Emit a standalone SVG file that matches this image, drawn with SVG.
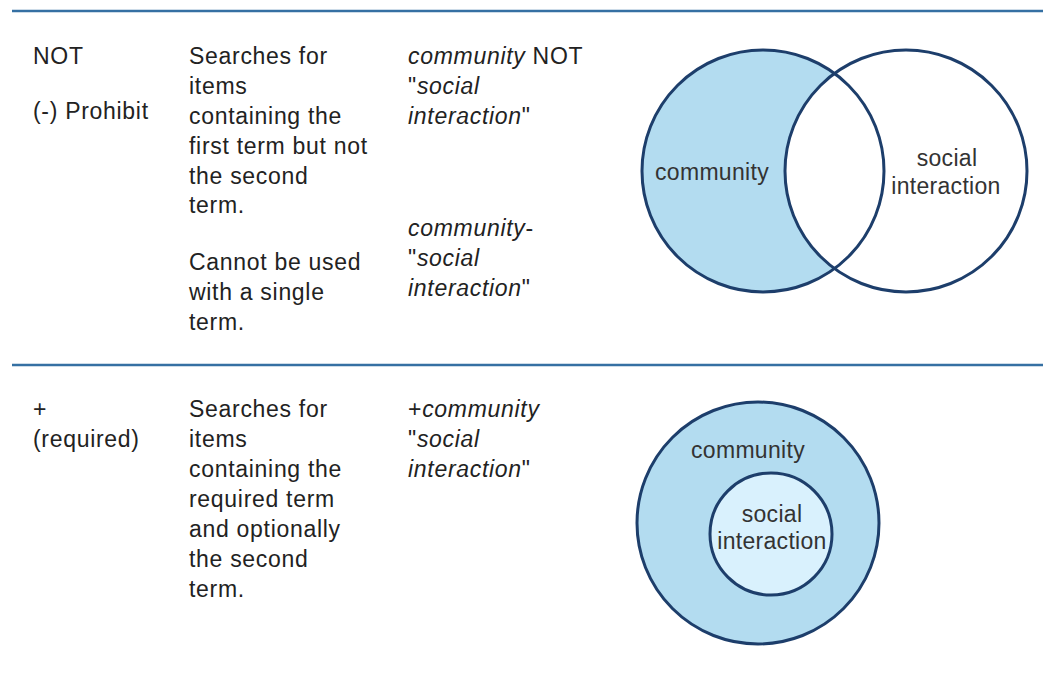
<svg xmlns="http://www.w3.org/2000/svg" width="1043" height="675" viewBox="0 0 1043 675">
  <style>
    .t { font-family: "Liberation Sans", Arial, sans-serif; font-size: 23px; fill: #222; letter-spacing: 0.7px; }
    .i { font-style: italic; }
    .c { font-family: "Liberation Sans", Arial, sans-serif; font-size: 23px; fill: #333; text-anchor: middle; letter-spacing: 0.3px; }
    .rule { stroke: #3570a3; stroke-width: 2.5; }
    .ring { stroke: #1d3e6b; stroke-width: 3; }
  </style>
  <rect width="1043" height="675" fill="#ffffff"/>

  <g id="rules">
    <line class="rule" x1="12" y1="11" x2="1043" y2="11"/>
    <line class="rule" x1="12" y1="365" x2="1043" y2="365"/>
  </g>

  <g id="row-not">
    <text class="t" x="33" y="64">NOT</text>
    <text class="t" x="33" y="119">(-) Prohibit</text>
    <text class="t" x="189" y="64">Searches for</text>
    <text class="t" x="189" y="94">items</text>
    <text class="t" x="189" y="124">containing the</text>
    <text class="t" x="189" y="154">first term but not</text>
    <text class="t" x="189" y="184">the second</text>
    <text class="t" x="189" y="213">term.</text>
    <text class="t" x="189" y="270">Cannot be used</text>
    <text class="t" x="189" y="300">with a single</text>
    <text class="t" x="189" y="330">term.</text>
    <text class="t" x="408" y="64"><tspan class="i">community</tspan> NOT</text>
    <text class="t" x="408" y="94">"<tspan class="i">social</tspan></text>
    <text class="t" x="408" y="124"><tspan class="i">interaction</tspan>"</text>
    <text class="t" x="408" y="236"><tspan class="i">community</tspan>-</text>
    <text class="t" x="408" y="266">"<tspan class="i">social</tspan></text>
    <text class="t" x="408" y="296"><tspan class="i">interaction</tspan>"</text>
  </g>

  <g id="venn-not">
    <circle cx="763" cy="171" r="121" fill="#b3dcf0"/>
    <circle cx="906" cy="171" r="121" fill="#ffffff"/>
    <circle class="ring" cx="763" cy="171" r="121" fill="none"/>
    <circle class="ring" cx="906" cy="171" r="121" fill="none"/>
    <text class="c" x="712" y="180">community</text>
    <text class="c" x="947" y="166">social</text>
    <text class="c" x="946" y="194">interaction</text>
  </g>

  <g id="row-required">
    <text class="t" x="33" y="417">+</text>
    <text class="t" x="33" y="447">(required)</text>
    <text class="t" x="189" y="417">Searches for</text>
    <text class="t" x="189" y="447">items</text>
    <text class="t" x="189" y="477">containing the</text>
    <text class="t" x="189" y="507">required term</text>
    <text class="t" x="189" y="537">and optionally</text>
    <text class="t" x="189" y="567">the second</text>
    <text class="t" x="189" y="597">term.</text>
    <text class="t" x="408" y="417">+<tspan class="i">community</tspan></text>
    <text class="t" x="408" y="447">"<tspan class="i">social</tspan></text>
    <text class="t" x="408" y="477"><tspan class="i">interaction</tspan>"</text>
  </g>

  <g id="venn-required">
    <circle class="ring" cx="758" cy="523" r="121" fill="#b3dcf0"/>
    <circle class="ring" cx="771" cy="534" r="61" fill="#d9f1fd"/>
    <text class="c" x="748" y="458">community</text>
    <text class="c" x="772" y="522">social</text>
    <text class="c" x="772" y="549">interaction</text>
  </g>
</svg>
